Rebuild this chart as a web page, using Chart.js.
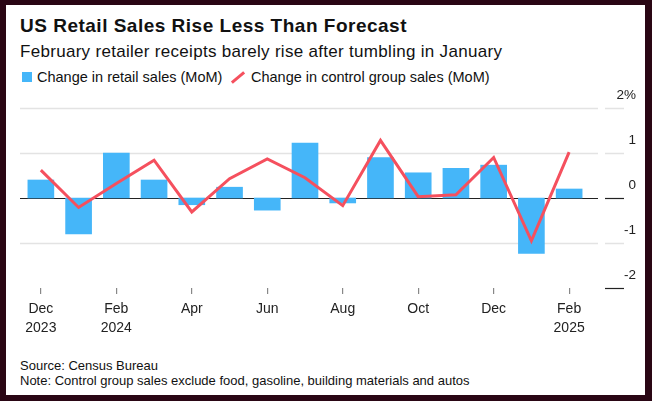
<!DOCTYPE html>
<html>
<head>
<meta charset="utf-8">
<script src="https://cdn.jsdelivr.net/npm/chart.js@4.4.1/dist/chart.umd.min.js"></script>
<style>
  html, body { margin: 0; padding: 0; }
  body { width: 652px; height: 401px; background: #2a0614; position: relative; overflow: hidden;
         font-family: "Liberation Sans", Arial, sans-serif; color: #111; }
  .panel { position: absolute; left: 6px; top: 5px; width: 639px; height: 390px; background: #fff; }
  .txt { position: absolute; line-height: 1; white-space: nowrap; }
  #title { left: 20px; top: 16px; font-size: 19px; font-weight: bold; letter-spacing: 0.5px; }
  #subtitle { left: 20px; top: 43px; font-size: 17px; letter-spacing: 0.3px; }
  .leg { top: 70px; font-size: 14.5px; }
  #sq { position: absolute; left: 22px; top: 72px; width: 10px; height: 10px; background: #45b6f9; }
  #ln { position: absolute; left: 230px; top: 75.5px; width: 16px; height: 3px; background: #f5505e; transform: rotate(-40deg); }
  .foot { font-size: 13px; color: #111; }
  #chartWrap { position: absolute; left: 6px; top: 90px; width: 639px; height: 250px; }
</style>
</head>
<body>
<div class="panel"></div>
<div class="txt" id="title">US Retail Sales Rise Less Than Forecast</div>
<div class="txt" id="subtitle">February retailer receipts barely rise after tumbling in January</div>
<div id="sq"></div>
<div class="txt leg" style="left:37px">Change in retail sales (MoM)</div>
<div id="ln"></div>
<div class="txt leg" style="left:251px">Change in control group sales (MoM)</div>
<div class="txt foot" style="left:20px; top:359px">Source: Census Bureau</div>
<div class="txt foot" style="left:20px; top:373.5px">Note: Control group sales exclude food, gasoline, building materials and autos</div>
<div id="chartWrap"><canvas id="salesChart" width="639" height="250"></canvas></div>

<script>
// monthly data, Dec 2023 .. Feb 2025
const months = ['Dec 2023', 'Jan 2024', 'Feb 2024', 'Mar 2024', 'Apr 2024', 'May 2024', 'Jun 2024', 'Jul 2024',
                'Aug 2024', 'Sep 2024', 'Oct 2024', 'Nov 2024', 'Dec 2024', 'Jan 2025', 'Feb 2025'];
const retailSales = [0.4, -0.8, 1.0, 0.4, -0.15, 0.24, -0.27, 1.22, -0.11, 0.9, 0.56, 0.66, 0.73, -1.23, 0.2];
const controlGroup = [0.62, -0.21, 0.32, 0.84, -0.31, 0.43, 0.87, 0.45, -0.17, 1.28, 0.03, 0.07, 0.9, -0.95, 1.02];
const yTicks = [-2, -1, 0, 1, 2];
const xTickLabels = {
    'Dec 2023': ['Dec', '2023'], 'Feb 2024': ['Feb', '2024'], 'Apr 2024': 'Apr', 'Jun 2024': 'Jun',
    'Aug 2024': 'Aug', 'Oct 2024': 'Oct', 'Dec 2024': 'Dec', 'Feb 2025': ['Feb', '2025']
};

// gridlines run a little past the plot, plus short marks next to the right labels
const gridPlugin = {
    id: 'customGrid',
    beforeDatasetsDraw(chart) {
        const { ctx, chartArea, scales: { y } } = chart;
        ctx.save();
        yTicks.forEach(v => {
            const py = Math.round(y.getPixelForValue(v)) + 0.5;
            if (v !== -2) {
                ctx.strokeStyle = v === 0 ? '#222' : '#e3e3e3';
                ctx.lineWidth = v === 0 ? 1.2 : 1.5;
                ctx.beginPath();
                ctx.moveTo(chartArea.left - 2, py);
                ctx.lineTo(chartArea.right + 10, py);
                ctx.stroke();
            }
            ctx.strokeStyle = (v === 0 || v === -2) ? '#222' : '#e3e3e3';
            ctx.lineWidth = (v === 0 || v === -2) ? 1.2 : 1.5;
            ctx.beginPath();
            ctx.moveTo(chartArea.right + 17, py);
            ctx.lineTo(chartArea.right + 36, py);
            ctx.stroke();
        });
        ctx.restore();
    }
};

const ctx = document.getElementById('salesChart').getContext('2d');
const salesChart = new Chart(ctx, {
    data: {
        labels: months,
        datasets: [{
            type: 'line',
            label: 'Change in control group sales (MoM)',
            data: controlGroup,
            borderColor: '#f5505e',
            borderWidth: 3,
            pointRadius: 0,
            tension: 0,
            borderJoinStyle: 'miter',
            order: 0
        }, {
            type: 'bar',
            label: 'Change in retail sales (MoM)',
            data: retailSales,
            backgroundColor: '#45b6f9',
            barThickness: 26,
            order: 1
        }]
    },
    options: {
        responsive: false,
        animation: false,
        layout: { padding: { left: 16, top: 18, right: 9, bottom: 0 } },
        plugins: { legend: { display: false }, tooltip: { enabled: false } },
        scales: {
            x: {
                offset: true,
                border: { display: false },
                grid: {
                    offset: false,
                    drawOnChartArea: false,
                    drawTicks: true,
                    tickLength: 6,
                    lineWidth: 1.2,
                    color: c => (c.index % 2 === 0 ? '#888' : 'rgba(0,0,0,0)')
                },
                ticks: {
                    autoSkip: false,
                    maxRotation: 0,
                    padding: 6,
                    color: '#222',
                    font: { family: 'Liberation Sans', size: 14, lineHeight: 1.35 },
                    callback: function (val) { return xTickLabels[this.getLabelForValue(val)] || ''; }
                },
                afterFit: s => { s.height = 52; }
            },
            y: {
                position: 'right',
                min: -2,
                max: 2,
                border: { display: false },
                grid: { display: false },
                ticks: {
                    stepSize: 1,
                    crossAlign: 'far',
                    labelOffset: -13,
                    color: '#222',
                    font: { family: 'Liberation Sans', size: 13.5 },
                    callback: v => (v === 2 ? '2%' : v)
                },
                afterFit: s => { s.width = 48; }
            }
        }
    },
    plugins: [gridPlugin]
});
</script>
</body>
</html>
